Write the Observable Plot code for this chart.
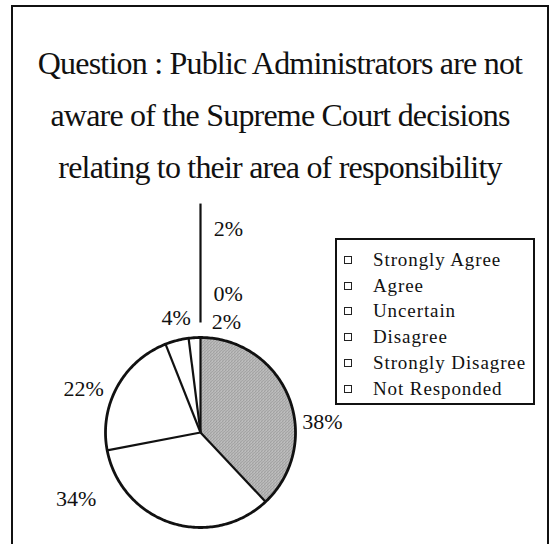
<!DOCTYPE html>
<html><head><meta charset="utf-8">
<script src="https://cdn.jsdelivr.net/npm/d3@7"></script>
<script src="https://cdn.jsdelivr.net/npm/@observablehq/plot@0.6"></script>
<style>
html,body{margin:0;padding:0;background:#fff;width:558px;height:544px;overflow:hidden;}
body{position:relative;font-family:"Liberation Serif","Times New Roman",serif;color:#111;}
#frame{position:absolute;left:11px;top:5px;width:538px;height:580px;border:2px solid #111;box-sizing:border-box;}
#title{position:absolute;left:12px;width:536px;top:37px;text-align:center;font-size:32px;letter-spacing:-0.8px;line-height:52px;white-space:nowrap;}
#chart{position:absolute;left:0;top:195px;}
#legend{position:absolute;left:335px;top:238px;width:200px;height:167px;border:2px solid #111;box-sizing:border-box;background:#fff;}
.item{position:absolute;left:0;height:26px;line-height:26px;font-size:19px;letter-spacing:0.9px;white-space:nowrap;}
.sw{position:absolute;left:7px;top:9px;width:8px;height:8px;border:1.5px solid #222;box-sizing:border-box;}
.lab{position:absolute;left:36px;top:0;}
</style></head>
<body>
<div id="frame"></div>
<div id="title"></div>
<div id="chart"></div>
<div id="legend"></div>
<script>
// ---- data ----
const titleLines = [
  "Question : Public Administrators are not",
  "aware of the Supreme Court decisions",
  "relating to their area of responsibility"
];
const categories = ["Strongly Agree","Agree","Uncertain","Disagree","Strongly Disagree","Not Responded"];
const percents = [38, 34, 22, 4, 0, 2];
const extraLabels = ["2%"];

// ---- styles / layout ----
const sliceFills = ["url(#stipple)","#fff","#fff","#fff","#fff","#fff"];
const labelNudge = [[16,31],[-89,-42],[-17,11],[4,-4],[42,-25],[33,3]];
const W = 558, H = 349, cx = 200, cy = 237, R = 95;

document.getElementById("title").innerHTML = titleLines.map(t => `<div>${t}</div>`).join("");

const legend = document.getElementById("legend");
categories.forEach((c, i) => {
  const d = document.createElement("div");
  d.className = "item";
  d.style.top = (7 + i * 25.7) + "px";
  d.innerHTML = `<span class="sw"></span><span class="lab">${c}</span>`;
  legend.appendChild(d);
});

const data = categories.map((c, i) => ({category: c, value: percents[i]}));
const arcs = d3.pie().sort(null).value(d => d.value).startAngle(0).endAngle(2 * Math.PI)(data);

function slicePts(a) {
  const pts = [[0, 0]];
  const n = Math.max(2, Math.ceil((a.endAngle - a.startAngle) / (Math.PI / 180)));
  for (let k = 0; k <= n; k++) {
    const t = a.startAngle + (a.endAngle - a.startAngle) * k / n;
    pts.push([Math.sin(t), Math.cos(t)]);
  }
  pts.push([0, 0]);
  return pts;
}
const circle = d3.range(0, 361).map(k => [Math.sin(k * Math.PI / 180), Math.cos(k * Math.PI / 180)]);
const boundaries = arcs.filter(a => a.value > 0).map(a => a.startAngle);
const mid = a => (a.startAngle + a.endAngle) / 2;
const topAngle = arcs[arcs.length - 1].endAngle;

const marks = [];
arcs.forEach((a, i) => {
  if (a.value > 0) marks.push(Plot.line(slicePts(a), {x: d => d[0], y: d => d[1], fill: sliceFills[i], stroke: "none"}));
});
marks.push(Plot.link(boundaries, {x1: 0, y1: 0, x2: t => Math.sin(t), y2: t => Math.cos(t), stroke: "#111", strokeWidth: 2.2}));
marks.push(Plot.line(circle, {x: d => d[0], y: d => d[1], stroke: "#111", strokeWidth: 2.8}));
marks.push(Plot.text(arcs, {
  x: a => Math.sin(mid(a)) * 1.2, y: a => Math.cos(mid(a)) * 1.2,
  text: a => a.value + "%",
  fontSize: 22, fontFamily: "Liberation Serif", fill: "#111", className: "slice-label"
}));
// leader line + extra label at the top
marks.push(Plot.link([topAngle], {x1: t => Math.sin(t) * 1.158, y1: t => Math.cos(t) * 1.158, x2: t => Math.sin(t) * 2.41, y2: t => Math.cos(t) * 2.41, stroke: "#111", strokeWidth: 2.2}));
marks.push(Plot.text(extraLabels, {x: Math.sin(topAngle) * 2.41, y: Math.cos(topAngle) * 2.41, text: d => d, dx: 28, dy: 25, fontSize: 22, fontFamily: "Liberation Serif", fill: "#111"}));

const svg = Plot.plot({
  width: W, height: H, margin: 0,
  x: {domain: [-1, 1], range: [cx - R, cx + R], axis: null},
  y: {domain: [-1, 1], range: [cy + R, cy - R], axis: null},
  style: {background: "transparent", overflow: "visible"},
  marks
});

// per-label offsets (Plot's dx/dy are constants, so apply per element)
svg.querySelectorAll(".slice-label text").forEach((t, i) => {
  const [ox, oy] = labelNudge[i];
  const tr = t.getAttribute("transform") || "";
  t.setAttribute("transform", `translate(${ox},${oy}) ` + tr);
});

// stipple pattern for the shaded slice
const ns = "http://www.w3.org/2000/svg";
const defs = document.createElementNS(ns, "defs");
defs.innerHTML = `<pattern id="stipple" width="3" height="3" patternUnits="userSpaceOnUse">
  <rect width="3" height="3" fill="#c6c6c6"/>
  <rect x="0" y="0" width="1" height="1" fill="#6e6e6e"/>
  <rect x="2" y="1" width="1" height="1" fill="#888"/>
  <rect x="1" y="2" width="1" height="1" fill="#7c7c7c"/>
  <rect x="1" y="0" width="1" height="1" fill="#e2e2e2"/>
</pattern>`;
svg.insertBefore(defs, svg.firstChild);
document.getElementById("chart").appendChild(svg);
</script>
</body></html>
